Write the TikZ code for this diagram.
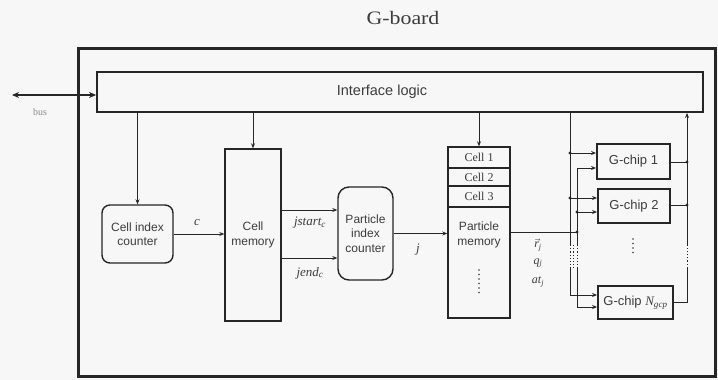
\documentclass[tikz,border=0pt]{standalone}
\usepackage{fontspec}
\setmainfont{Liberation Serif}
\setsansfont{Liberation Sans}
\usetikzlibrary{arrows.meta}
\definecolor{ln}{HTML}{262626}
\definecolor{tx}{HTML}{3C3C3C}
\begin{document}
\begin{tikzpicture}[x=1pt,y=-1pt,
  blk/.style={draw=ln, line width=1.4pt, inner sep=0pt, align=center, text=tx,
    font=\sffamily\fontsize{12}{14.5}\selectfont},
  rblk/.style={blk, rounded corners=9pt},
  chip/.style={blk, line width=1.8pt, font=\sffamily\fontsize{13}{15}\selectfont},
  arr/.style={draw=ln, line width=0.9pt, -{Stealth[length=5pt,width=4pt]}},
  wire/.style={draw=ln, line width=0.9pt},
  dotw/.style={draw=ln, line width=0.9pt, dash pattern=on 1.2pt off 2pt},
  jn/.style={circle, fill=ln, inner sep=0pt, minimum size=3.2pt},
  lab/.style={text=tx, font=\rmfamily\itshape\fontsize{13}{14}\selectfont, inner sep=0pt},
  vdots/.style={draw=tx, line width=1.6pt, line cap=round, dash pattern=on 0pt off 4.5pt}
]
\useasboundingbox (0,0) rectangle (718,380);
\fill[black!3] (0,0) rectangle (718,380);

\node[text=tx, font=\rmfamily\fontsize{19}{22}\selectfont] (title) at (403,18) {\scalebox{1.15}[1]{G-board}};

\node[draw=ln, line width=3pt, minimum width=637pt, minimum height=328pt, inner sep=0pt] (board) at (396.5,212) {};

\node[blk, line width=1.8pt, minimum width=606pt, minimum height=40pt] (iface) at (400,92) {};
\node[text=tx, font=\sffamily\fontsize{14.5}{16}\selectfont] (ifacetxt) at (382,92) {Interface logic};

% bus
\coordinate (busend) at (12,95);
\draw[draw=ln, line width=1.8pt, {Stealth[length=7pt,width=6pt]}-{Stealth[length=7pt,width=6pt]}] (busend) -- (busend -| iface.west);
\node[text=black!45, font=\rmfamily\fontsize{10}{11}\selectfont] (bus) at (40,112) {bus};

% blocks
\node[rblk, rounded corners=8pt, minimum width=71pt, minimum height=58pt] (cic) at (137.5,234) {Cell index\\counter};
\node[blk, minimum width=56pt, minimum height=172pt] (cmem) at (253,235) {Cell\\memory};
\node[rblk, rounded corners=11pt, minimum width=55pt, minimum height=93pt] (pic) at (365.5,233.5) {Particle\\index\\counter};
\node[blk, minimum width=62pt, minimum height=171pt] (pmem) at (479,232.5) {};
\node[text=tx, font=\sffamily\fontsize{12}{14.5}\selectfont, align=center] (pmemtxt) at (479,235) {Particle\\memory};
\draw[ln, line width=1.2pt] (448,168) -- (510,168) (448,186) -- (510,186) (448,207) -- (510,207);
\node[text=tx, font=\rmfamily\fontsize{12}{13}\selectfont] (c1) at (479,157.5) {Cell 1};
\node[text=tx, font=\rmfamily\fontsize{12}{13}\selectfont] (c2) at (479,177) {Cell 2};
\node[text=tx, font=\rmfamily\fontsize{12}{13}\selectfont] (c3) at (479,196.5) {Cell 3};
\draw[vdots] (479,270) -- (479,294);

\node[chip, minimum width=73pt, minimum height=35pt] (gc1) at (633.5,161.5) {G-chip 1};
\node[chip, minimum width=72pt, minimum height=34pt] (gc2) at (634,206) {G-chip 2};
\node[chip, minimum width=75pt, minimum height=33pt] (gcn) at (635.5,302.5) {G-chip {\rmfamily\itshape N\textsubscript{gcp}}};
\draw[vdots] (633,239) -- (633,254);

% arrows from interface
\draw[arr] (iface.south -| cic.north) -- (cic.north);
\draw[arr] (iface.south -| cmem.north) -- (cmem.north);
\draw[arr] (iface.south -| pmem.north) -- (pmem.north);

% data flow
\draw[arr] (cic.east) -- (cic.east -| cmem.west);
\node[lab] (lc) at (197,222) {c};
\coordinate (js) at (281,210);
\coordinate (je) at (281,258);
\draw[arr] (js) -- (js -| pic.west);
\draw[arr] (je) -- (je -| pic.west);
\node[lab] (ljs) at (310,223) {jstart\textsubscript{c}};
\node[lab] (lje) at (310,273) {jend\textsubscript{c}};
\draw[arr] (pic.east) -- (pic.east -| pmem.west);
\node[lab] (lj) at (418,250) {j};

% bus to chips
\coordinate (dj) at (577,232);
\draw[wire] (pmem.east |- dj) -- (dj);
\node[jn] (djn) at (dj) {};
\node[lab, font=\rmfamily\itshape\fontsize{12}{13}\selectfont] (lr) at (538,245) {$\vec{\textit{r}}$\textsubscript{j}};
\node[lab, font=\rmfamily\itshape\fontsize{12}{13}\selectfont] (lq) at (538,263) {q\textsubscript{j}};
\node[lab, font=\rmfamily\itshape\fontsize{12}{13}\selectfont] (la) at (538,282) {at\textsubscript{j}};

% line A (x=570)
\coordinate (a0) at (570,112);
\coordinate (a1) at (570,153);
\coordinate (a2) at (570,198);
\coordinate (a3) at (570,245);
\coordinate (a4) at (570,268);
\coordinate (a5) at (570,295);
\draw[wire] (a0) -- (a3);
\draw[dotw] (a3) -- (a4);
\draw[wire] (a4) -- (a5);
\draw[arr] (a1) -- (a1 -| gc1.west);
\draw[arr] (a2) -- (a2 -| gc2.west);
\draw[arr] (a5) -- (a5 -| gcn.west);
\node[jn] (a1n) at (a1) {};
\node[jn] (a2n) at (a2) {};

% line B (x=577)
\coordinate (b1) at (577,168);
\coordinate (b2) at (577,212);
\coordinate (b3) at (577,245);
\coordinate (b4) at (577,268);
\coordinate (b5) at (577,307);
\draw[wire] (b1) -- (b3);
\draw[dotw] (b3) -- (b4);
\draw[wire] (b4) -- (b5);
\draw[arr] (b1) -- (b1 -| gc1.west);
\draw[arr] (b2) -- (b2 -| gc2.west);
\draw[arr] (b5) -- (b5 -| gcn.west);
\node[jn] (b2n) at (b2) {};
\draw[dotw] (573.5,245) -- (573.5,268);

% return line (x=687)
\coordinate (r1) at (687,162);
\coordinate (r2) at (687,205);
\coordinate (r3) at (687,245);
\coordinate (r4) at (687,268);
\coordinate (r5) at (687,302);
\draw[wire] (gc1.east |- r1) -- (r1);
\draw[wire] (gc2.east |- r2) -- (r2);
\draw[wire] (gcn.east |- r5) -- (r5) -- (r4);
\draw[dotw] (r4) -- (r3);
\draw[arr] (r3) -- (r3 |- iface.south);
\node[jn] (r1n) at (r1) {};
\node[jn] (r2n) at (r2) {};
\end{tikzpicture}
\end{document}
